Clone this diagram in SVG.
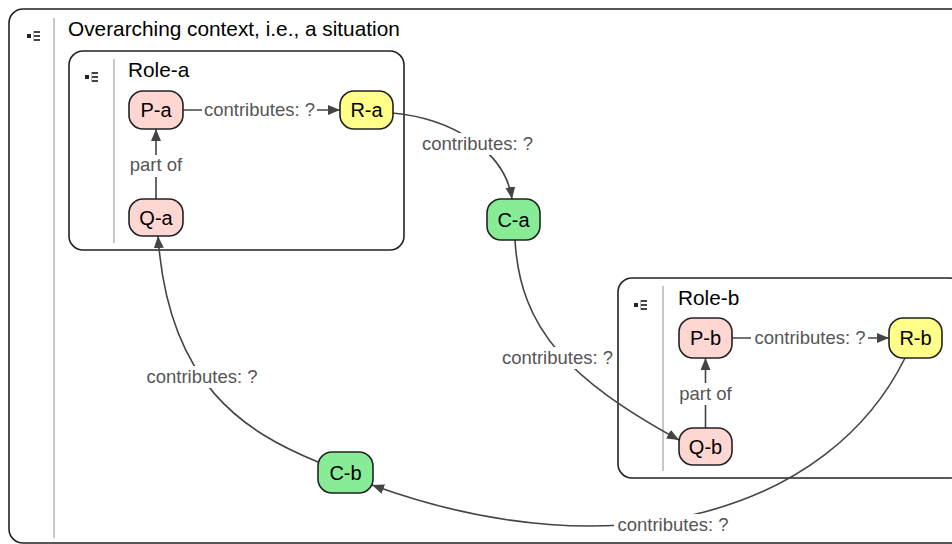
<svg xmlns="http://www.w3.org/2000/svg" width="952" height="544" viewBox="0 0 952 544">
<defs>
<marker id="arr" markerUnits="userSpaceOnUse" markerWidth="12" markerHeight="10" refX="12" refY="5" orient="auto">
<path d="M0,0 L12,5 L0,10 z" fill="#444"/>
</marker>
<g id="icon">
<rect x="0" y="3" width="4" height="4" fill="#222"/>
<rect x="7" y="0" width="6" height="2" fill="#444"/>
<rect x="7" y="4" width="6" height="2" fill="#444"/>
<rect x="7" y="8" width="6" height="2" fill="#444"/>
<rect x="6" y="0" width="1" height="10" fill="#bbb"/>
</g>
</defs>
<style>
.frame{fill:#fff;stroke:#222;stroke-width:1.6}
.sep{stroke:#c8c8c8;stroke-width:2}
.title{font-family:"Liberation Sans",Arial,sans-serif;font-size:20.8px;fill:#000}
.node rect{stroke:#222;stroke-width:1.6}
.node text{font-family:"Liberation Sans",Arial,sans-serif;font-size:20px;fill:#000;text-anchor:middle}
.pink{fill:#ffd7d2}
.yellow{fill:#ffff8a}
.green{fill:#88ec96}
.edge{fill:none;stroke:#444;stroke-width:1.6}
.lbg{fill:#fff}
.lbl{font-family:"Liberation Sans",Arial,sans-serif;font-size:18.5px;fill:#555;text-anchor:middle}
</style>
<rect width="952" height="544" fill="#fff"/>
<g id="context">
<rect class="frame" x="9" y="9" width="970" height="534" rx="14"/>
<line class="sep" x1="54" y1="18" x2="54" y2="538"/>
<use href="#icon" x="27" y="31"/>
<text class="title" x="68" y="36">Overarching context, i.e., a situation</text>
</g>
<g id="role-a">
<rect class="frame" x="69" y="51" width="335" height="199" rx="14"/>
<line class="sep" x1="114" y1="59" x2="114" y2="243"/>
<use href="#icon" x="85" y="72"/>
<text class="title" x="128" y="77">Role-a</text>
</g>
<g id="role-b">
<rect class="frame" x="618" y="278" width="345" height="200" rx="14"/>
<line class="sep" x1="663" y1="286" x2="663" y2="471"/>
<use href="#icon" x="634" y="300"/>
<text class="title" x="678" y="305">Role-b</text>
</g>
<g id="connectors">
<line class="edge" x1="183" y1="110" x2="340" y2="110" marker-end="url(#arr)"/>
<line class="edge" x1="156" y1="199" x2="156" y2="129" marker-end="url(#arr)"/>
<path class="edge" d="M392,113 C450,118 505,150 512,199" marker-end="url(#arr)"/>
<path class="edge" d="M515,240 C520,330 570,380 679,440" marker-end="url(#arr)"/>
<line class="edge" x1="732" y1="338" x2="889" y2="338" marker-end="url(#arr)"/>
<line class="edge" x1="705.5" y1="428" x2="705.5" y2="358" marker-end="url(#arr)"/>
<path class="edge" d="M905,358 C830,510 620,575 372,485" marker-end="url(#arr)"/>
<path class="edge" d="M318,462 C245,432 168,385 158,236" marker-end="url(#arr)"/>
<rect class="lbg" x="202" y="99" width="115" height="22"/>
<text class="lbl" x="259.5" y="116">contributes: ?</text>
<rect class="lbg" x="126" y="155" width="60" height="22"/>
<text class="lbl" x="156" y="171">part of</text>
<rect class="lbg" x="419" y="133" width="117" height="22"/>
<text class="lbl" x="477.5" y="150">contributes: ?</text>
<rect class="lbg" x="499" y="347" width="117" height="22"/>
<text class="lbl" x="557.5" y="364">contributes: ?</text>
<rect class="lbg" x="751" y="327" width="117" height="22"/>
<text class="lbl" x="810" y="344">contributes: ?</text>
<rect class="lbg" x="675" y="383" width="60" height="22"/>
<text class="lbl" x="705.5" y="400">part of</text>
<rect class="lbg" x="614" y="514" width="118" height="22"/>
<text class="lbl" x="673" y="531">contributes: ?</text>
<rect class="lbg" x="144" y="366" width="117" height="22"/>
<text class="lbl" x="202" y="383">contributes: ?</text>
</g>
<g id="P-a" class="node"><rect class="pink" x="129" y="91" width="54" height="38" rx="14"/><text x="156" y="117">P-a</text></g>
<g id="R-a" class="node"><rect class="yellow" x="340" y="91" width="53" height="38" rx="14"/><text x="366.5" y="117">R-a</text></g>
<g id="Q-a" class="node"><rect class="pink" x="129" y="199" width="54" height="37" rx="14"/><text x="156" y="224.5">Q-a</text></g>
<g id="C-a" class="node"><rect class="green" x="487" y="199" width="53" height="41" rx="14"/><text x="513.5" y="227">C-a</text></g>
<g id="C-b" class="node"><rect class="green" x="318" y="452" width="55" height="41" rx="14"/><text x="345.5" y="480">C-b</text></g>
<g id="P-b" class="node"><rect class="pink" x="679" y="318" width="53" height="40" rx="14"/><text x="705.5" y="345">P-b</text></g>
<g id="R-b" class="node"><rect class="yellow" x="889" y="318" width="53" height="40" rx="14"/><text x="915.5" y="345">R-b</text></g>
<g id="Q-b" class="node"><rect class="pink" x="679" y="428" width="53" height="37" rx="14"/><text x="705.5" y="454">Q-b</text></g>
</svg>
